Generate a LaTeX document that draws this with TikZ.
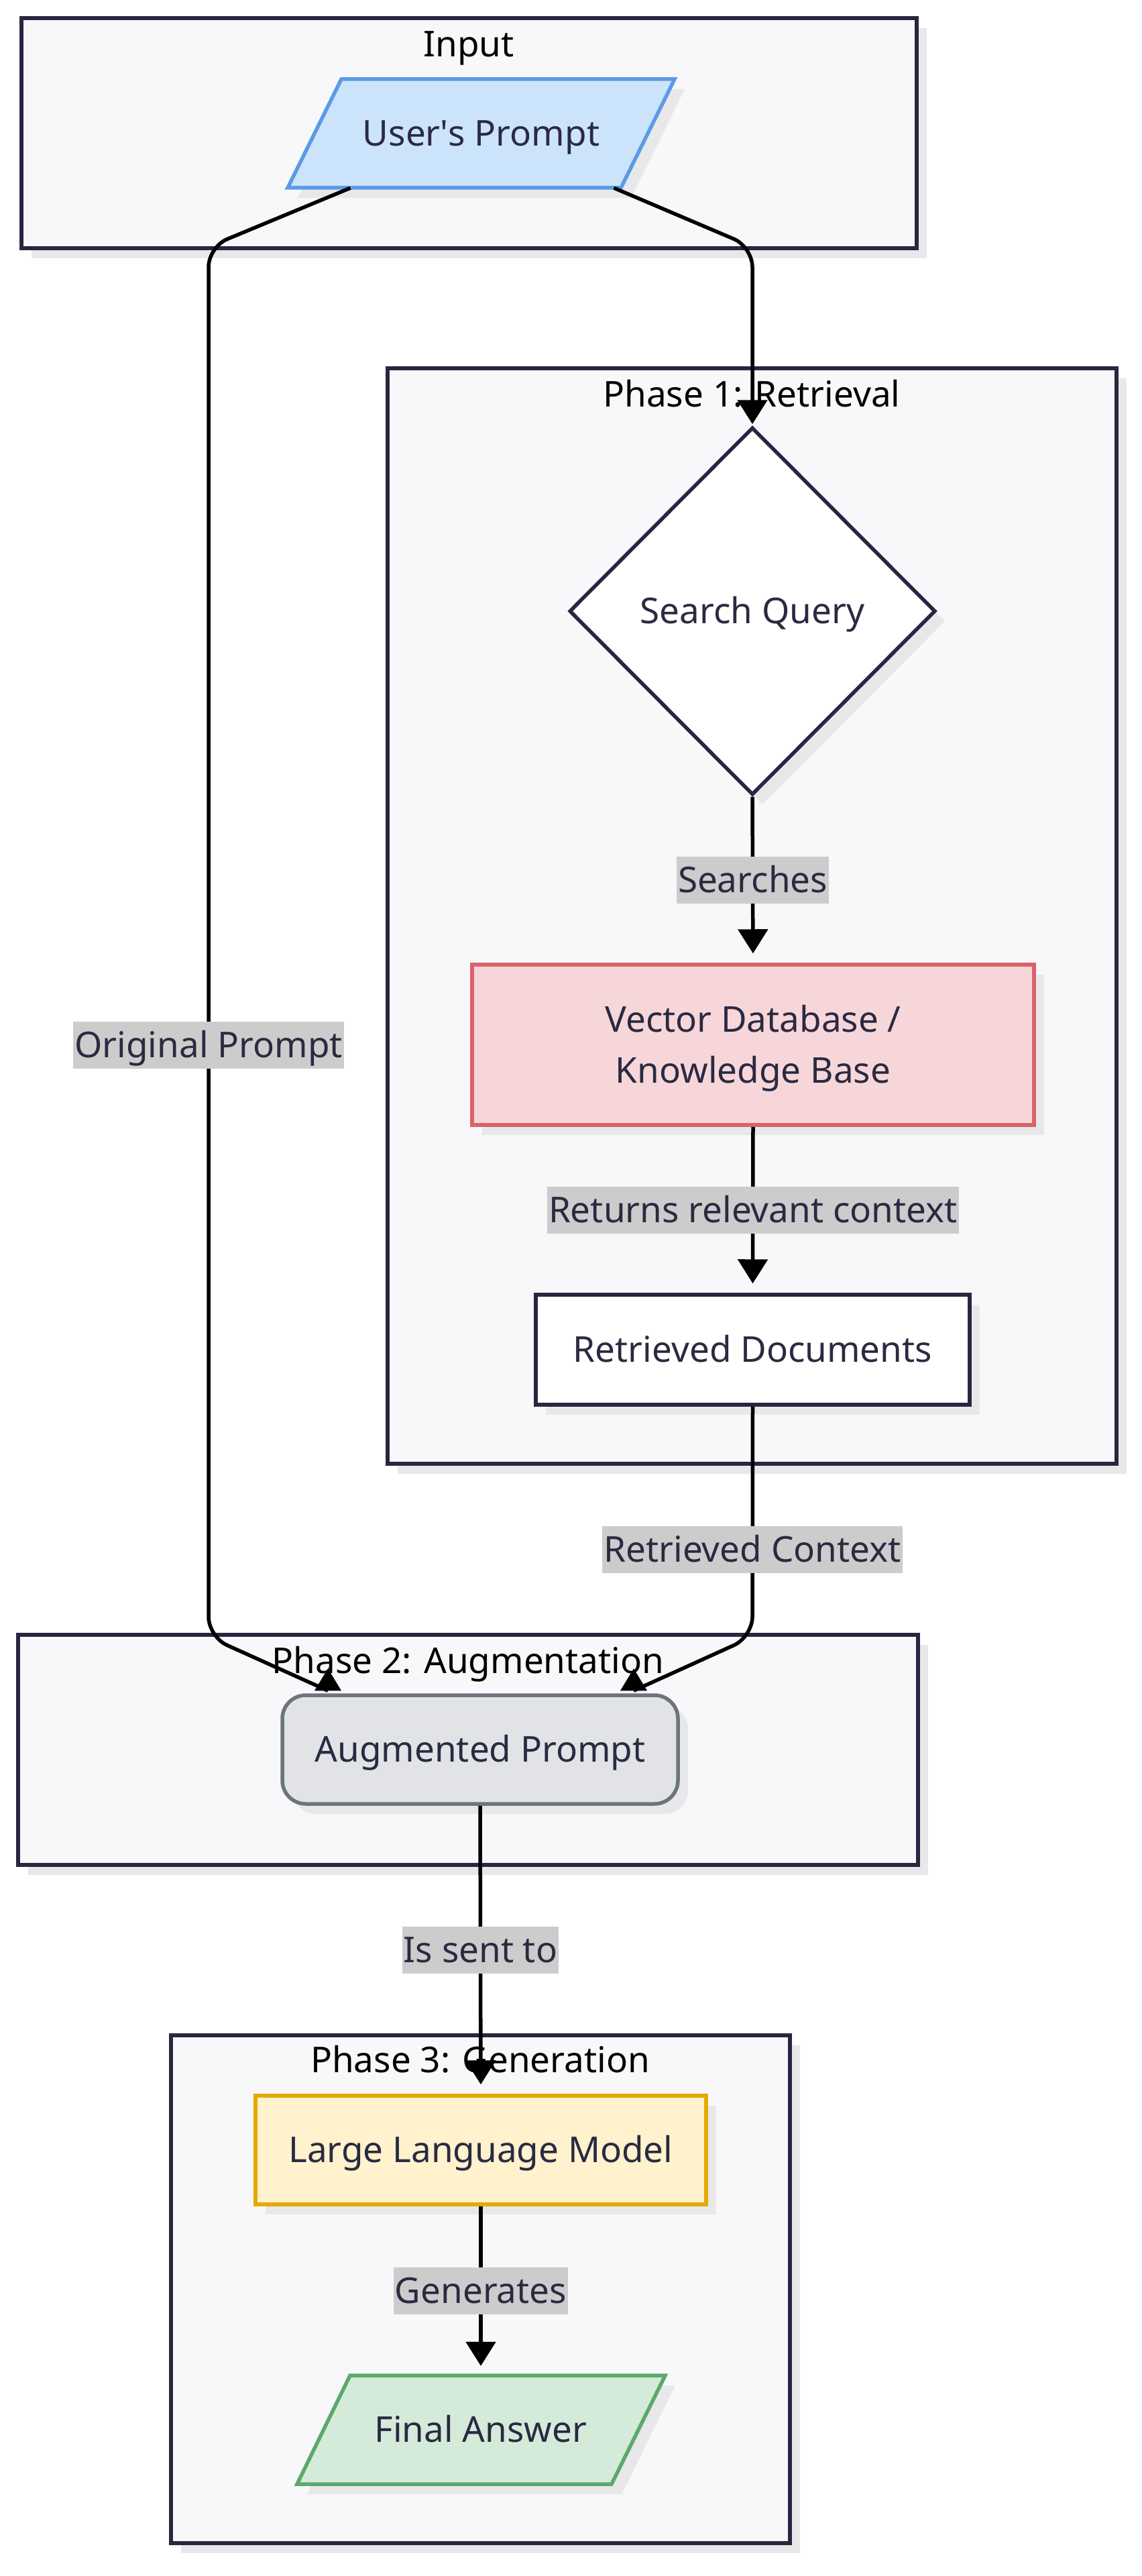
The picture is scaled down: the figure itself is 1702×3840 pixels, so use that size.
\documentclass[tikz,border=0pt]{standalone}
\usepackage{fontspec}
\setmainfont{Noto Sans}
\usetikzlibrary{shapes.geometric,arrows.meta,shadows,calc}
\definecolor{clfill}{HTML}{F8F8FA}
\definecolor{clborder}{HTML}{272740}
\definecolor{shadowc}{HTML}{E8E8EB}
\definecolor{textc}{HTML}{2A2A42}
\definecolor{labfill}{HTML}{CCCCCC}
\definecolor{upfill}{HTML}{CCE3FC}
\definecolor{updraw}{HTML}{5B9AE6}
\definecolor{vdbfill}{HTML}{F7D6DA}
\definecolor{vdbdraw}{HTML}{D9626B}
\definecolor{apfill}{HTML}{E1E3E6}
\definecolor{apdraw}{HTML}{6C757D}
\definecolor{llmfill}{HTML}{FFF2CC}
\definecolor{llmdraw}{HTML}{E3AA00}
\definecolor{fafill}{HTML}{D5EBDA}
\definecolor{fadraw}{HTML}{5BA96C}
\tikzset{
  every node/.style={text height=37pt, text depth=0pt},
  shad/.style={drop shadow={shadow xshift=15pt, shadow yshift=-15pt, fill=shadowc, opacity=1}},
  cluster/.style={draw=clborder, fill=clfill, line width=5.5pt, shad, inner sep=0pt},
  ctitle/.style={text=black, inner sep=0pt},
  box/.style={line width=5.5pt, shad, text=textc, inner sep=0pt, align=center},
  txt/.style={text=textc, inner sep=0pt, align=center},
  para/.style={line width=5.5pt, shad, line join=miter},
  edge/.style={draw=black, line width=5.5pt},
  arr/.style={edge, -{Triangle[length=36pt,width=44pt]}, shorten >=14pt},
  lab/.style={fill=labfill, text=textc, inner xsep=2pt, inner ysep=0pt, minimum height=70pt, sloped=false}
}
\begin{document}
\begin{tikzpicture}[x=1pt,y=-1pt,font=\fontsize{53}{62}\selectfont]
\useasboundingbox (0,0) rectangle (1702,3840);
\fill[white] (0,0) rectangle (1702,3840);

% clusters
\node[cluster, minimum width=1335pt, minimum height=343pt] (cin) at (699.5,198.5) {};
\node[ctitle] (cinT) at (699,66) {Input};
\node[cluster, minimum width=1087pt, minimum height=1633pt] (cp1) at (1121.5,1365.5) {};
\node[ctitle] (cp1T) at (1121,588) {Phase 1: Retrieval};
\node[cluster, minimum width=1342pt, minimum height=343pt] (cp2) at (698,2608.5) {};
\node[ctitle] (cp2T) at (698,2476) {Phase 2: Augmentation};
\node[cluster, minimum width=923pt, minimum height=757pt] (cp3) at (716.5,3412.5) {};
\node[ctitle] (cp3T) at (716,3071) {Phase 3: Generation};

% nodes
\path[para, draw=updraw, fill=upfill] (509,118) -- (1006,118) -- (926,280) -- (429,280) -- cycle;
\node[txt, minimum width=497pt, minimum height=162pt] (up) at (717.5,199) {User\textquotesingle s Prompt};

\node[box, diamond, draw=clborder, fill=white, minimum width=546pt, minimum height=548pt] (sq) at (1122,911) {Search Query};
\node[box, rectangle, draw=vdbdraw, fill=vdbfill, minimum width=838pt, minimum height=239pt, text height=113pt, font=\fontsize{53}{76}\selectfont] (vdb) at (1123,1557.5) {Vector Database /\\Knowledge Base};
\node[box, rectangle, draw=clborder, fill=white, minimum width=647pt, minimum height=164pt] (rd) at (1122.5,2012) {Retrieved Documents};
\node[box, rectangle, rounded corners=35pt, draw=apdraw, fill=apfill, minimum width=590pt, minimum height=162pt] (ap) at (716,2608) {Augmented Prompt};
\node[box, rectangle, draw=llmdraw, fill=llmfill, minimum width=672pt, minimum height=162pt] (llm) at (717,3205) {Large Language Model};
\path[para, draw=fadraw, fill=fafill] (522,3541) -- (992,3541) -- (912,3703) -- (443,3703) -- cycle;
\node[txt, minimum width=470pt, minimum height=162pt] (fa) at (717,3622) {Final Answer};

% edges
\draw[edge, rounded corners=30pt] ([xshift=-195pt]up.south) -- (311,368) -- (311,2440) -- ([xshift=-227pt,yshift=4pt]ap.north);
\fill ([xshift=-247pt,yshift=4pt]ap.north) -- ++(40,0) -- ++(-20,-33) -- cycle;
\node[lab] (lorig) at (311,1558) {Original Prompt};

\draw[arr, shorten >=2pt, rounded corners=30pt] ([xshift=198pt]up.south) -- (1122,368) -- (sq.north);
\draw[arr] (sq.south) -- node[lab] (lsearch) {Searches} (vdb.north);
\draw[arr] (vdb.south) -- node[lab] (lret) {Returns relevant context} (rd.north);

\draw[edge, rounded corners=30pt] (rd.south) -- (1122,2440) -- ([xshift=229pt,yshift=4pt]ap.north);
\fill ([xshift=209pt,yshift=4pt]ap.north) -- ++(40,0) -- ++(-20,-33) -- cycle;
\node[lab] (lctx) at (1122,2310) {Retrieved Context};

\draw[arr] (ap.south) -- node[lab] (lsent) {Is sent to} (llm.north);
\draw[arr] (llm.south) -- node[lab] (lgen) {Generates} (fa.north);
\end{tikzpicture}
\end{document}
